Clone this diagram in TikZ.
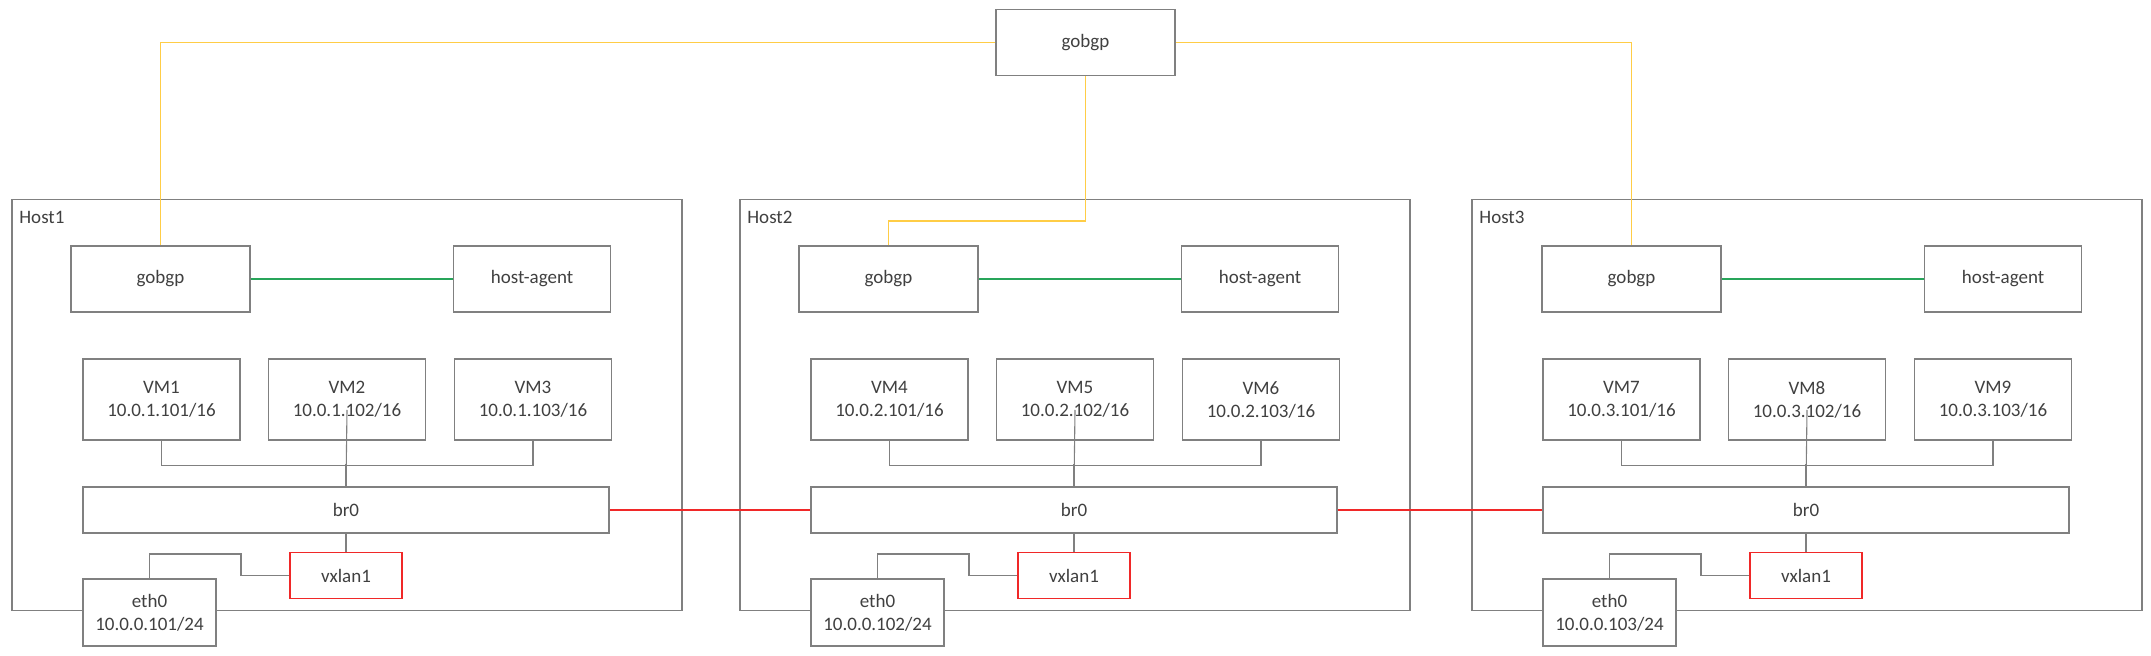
\documentclass[tikz,border=0pt]{standalone}
\usepackage{fontspec}
\setmainfont{Carlito}
\usetikzlibrary{positioning}

\definecolor{boxgray}{RGB}{128,128,128}
\definecolor{txtgray}{RGB}{64,64,64}
\definecolor{bgpyellow}{RGB}{255,205,70}
\definecolor{agentgreen}{RGB}{40,165,90}
\definecolor{tunnelred}{RGB}{240,40,40}

\begin{document}
\begin{tikzpicture}[
	x=0.5pt, y=-0.5pt,
	box/.style={draw=boxgray, line width=0.75pt, fill=white, text=txtgray, align=center, inner sep=0pt,
		font=\fontsize{9.5}{11.5}\selectfont},
	hostbox/.style={box, anchor=north west, minimum width=335pt, minimum height=205.5pt},
	bgpbox/.style={box, minimum width=89.5pt, minimum height=33pt},
	agentbox/.style={box, minimum width=78.5pt, minimum height=33pt},
	vmbox/.style={box, minimum width=78.5pt, minimum height=40.5pt},
	brbox/.style={box, minimum width=263pt, minimum height=23pt},
	vxbox/.style={box, draw=tunnelred, minimum width=56pt, minimum height=23pt},
	ethbox/.style={box, minimum width=66.5pt, minimum height=33.5pt},
	link/.style={draw=boxgray, line width=0.55pt},
	bgp/.style={draw=bgpyellow, line width=0.8pt},
	ctrl/.style={draw=agentgreen, line width=0.6pt},
	tunnel/.style={draw=tunnelred, line width=0.65pt},
]
	\useasboundingbox (0,0) rectangle (2151,656);

	% route reflector on top
	\node[bgpbox] (gobgp) at (1085.5,42.5) {gobgp};

	% one box per host
	\foreach \h/\L/\G/\va/\vb/\vc/\ip in {1/11/0/1/2/3/101, 2/739/0/4/5/6/102, 3/1471/11/7/8/9/103} {
		\node[hostbox] (host\h) at (\L,199) {};
		\node[anchor=west, inner sep=0pt, text=txtgray, font=\fontsize{9.5}{11.5}\selectfont] (label\h) at (\L+8,217) {Host\h};

		\node[bgpbox] (gobgp\h) at (\L+\G+149.5,279) {gobgp};
		\node[agentbox, right=101pt of gobgp\h] (agent\h) {host-agent};
		\draw[ctrl] (gobgp\h) -- (agent\h);

		\node[vmbox] (vm\va) at (\L+150.5,399.5) {VM\va\\10.0.\h.101/16};
		\node[vmbox, right=13.5pt of vm\va] (vm\vb) {VM\vb\\10.0.\h.102/16};
		\node[vmbox, right=13.75pt of vm\vb] (vm\vc) {VM\vc\\10.0.\h.103/16};

		\node[brbox] (br\h) at (\L+335,510) {br0};
		\node[vxbox, below=9pt of br\h] (vxlan\h) {vxlan1};
		\node[ethbox] (eth\h) at (\L+138.5,612.5) {eth0\\10.0.0.\ip/24};

		\draw[link] (vm\va.south) -- ++(0,25) -| (vm\vc.south);
		\draw[link] ([yshift=-5.25pt]vm\vb.center) -- (br\h.north);
		\draw[link] (br\h.north) -- ++(0,-22);
		\draw[link] (br\h.south) -- (vxlan\h.north);
		\draw[link] (eth\h.north) |- (\L+230,554) |- (vxlan\h.west);
	}

	% bgp sessions
	\draw[bgp] (gobgp.west) -| (gobgp1.north);
	\draw[bgp] (gobgp.south) |- (889,221) -| (gobgp2.north);
	\draw[bgp] (gobgp.east) -| (gobgp3.north);

	% vxlan underlay between bridges
	\draw[tunnel] (br1.east) -- (br2.west);
	\draw[tunnel] (br2.east) -- (br3.west);
\end{tikzpicture}
\end{document}
